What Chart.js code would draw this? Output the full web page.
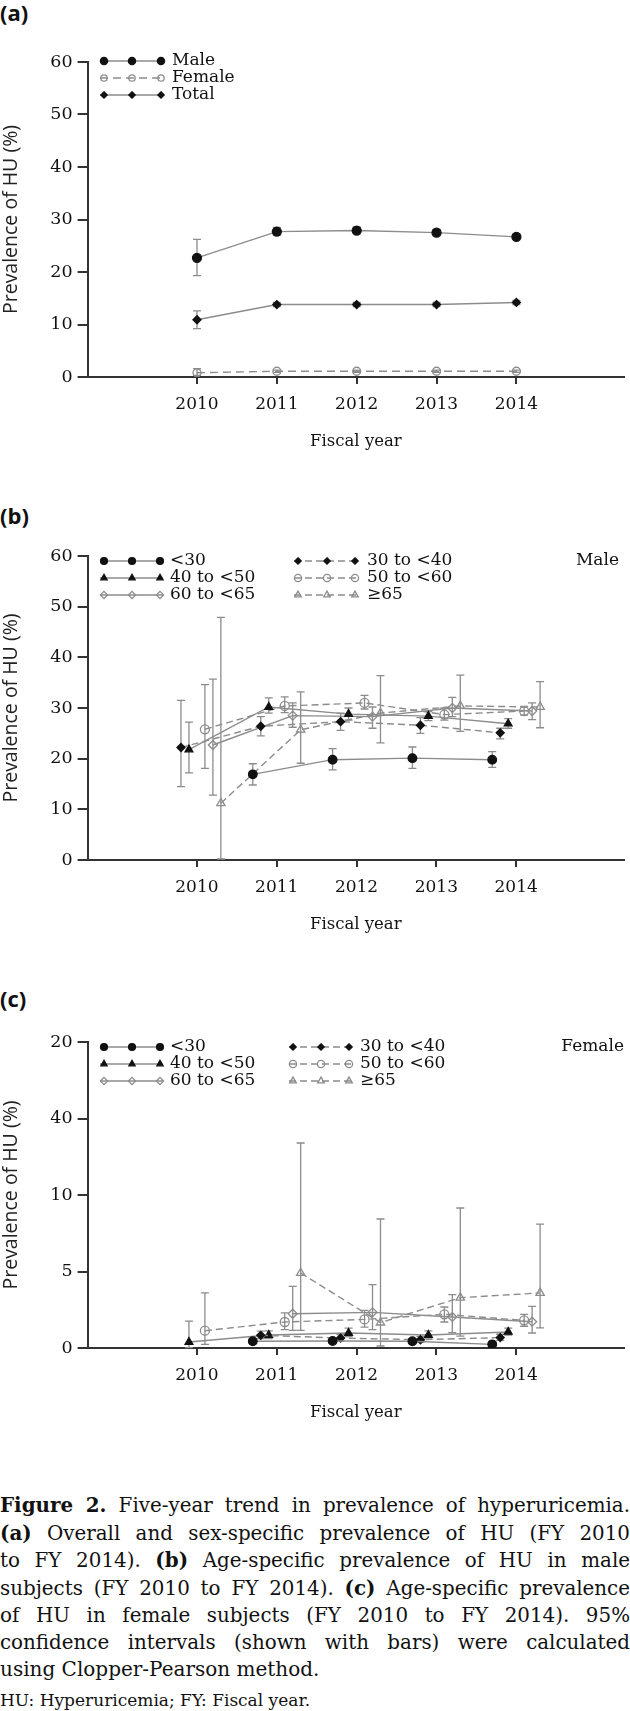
<!DOCTYPE html>
<html>
<head>
<meta charset="utf-8">
<script src="https://cdn.jsdelivr.net/npm/chart.js@4.4.1/dist/chart.umd.min.js"></script>
<style>
  body { margin: 0; width: 630px; height: 1711px; position: relative; background: #fff; overflow: hidden; }
  canvas { position: absolute; left: 0; }
  .lab { position: absolute; left: 0; font: bold 22px "Open Sans"; line-height: 24px; color: #111; }
  .cap { position: absolute; left: 0; top: 1492px; width: 630px; font: 20px "DejaVu Serif"; line-height: 26.7px; color: #111; }
  .ln { text-align: justify; text-align-last: justify; white-space: nowrap; }
  .fn { position: absolute; left: 0; top: 1689px; font: 17px "DejaVu Serif"; line-height: 22px; color: #111; }
</style>
</head>
<body>
<div class="lab" style="top:0px">(a)</div>
<div class="lab" style="top:503px">(b)</div>
<div class="lab" style="top:986px">(c)</div>
<canvas id="chartA"></canvas>
<canvas id="chartB"></canvas>
<canvas id="chartC"></canvas>
<div class="cap">
  <div class="ln"><span><b>Figure 2.</b> Five-year trend in prevalence of hyperuricemia.</span></div>
  <div class="ln"><span><b>(a)</b> Overall and sex-specific prevalence of HU (FY 2010</span></div>
  <div class="ln"><span>to FY 2014). <b>(b)</b> Age-specific prevalence of HU in male</span></div>
  <div class="ln"><span>subjects (FY 2010 to FY 2014). <b>(c)</b> Age-specific prevalence</span></div>
  <div class="ln"><span>of HU in female subjects (FY 2010 to FY 2014). 95%</span></div>
  <div class="ln"><span>confidence intervals (shown with bars) were calculated</span></div>
  <div><span>using Clopper-Pearson method.</span></div>
</div>
<div class="fn">HU: Hyperuricemia; FY: Fiscal year.</div>

<script>
// fiscal years and tick labels
const years = [2010, 2011, 2012, 2013, 2014];
const yearLabels = ['2010', '2011', '2012', '2013', '2014'];
const ticksAB = [0, 10, 20, 30, 40, 50, 60];
const labelsAB = ['0', '10', '20', '30', '40', '50', '60'];
const ticksC = [0, 5, 10, 15, 20];
const labelsC = ['0', '5', '10', '40', '20'];

// (a) overall and sex-specific prevalence (%), with 95% CI
const sexLabels = ['Male', 'Female', 'Total'];
const maleVal = [22.7, 27.7, 27.9, 27.5, 26.7];
const maleLo  = [19.3, 27.0, 27.3, 26.9, 26.2];
const maleHi  = [26.2, 28.5, 28.6, 28.1, 27.2];
const femaleVal = [0.8, 1.1, 1.1, 1.1, 1.1];
const femaleLo  = [0.3, 0.9, 0.9, 0.9, 0.9];
const femaleHi  = [1.6, 1.3, 1.3, 1.3, 1.3];
const totalVal = [10.9, 13.8, 13.8, 13.8, 14.2];
const totalLo  = [9.2, 13.4, 13.4, 13.4, 13.8];
const totalHi  = [12.6, 14.2, 14.2, 14.2, 14.6];

// age groups
const ageLabels = ['<30', '30 to <40', '40 to <50', '50 to <60', '60 to <65', '≥65'];
const ageShift = [-0.3, -0.2, -0.1, 0.1, 0.2, 0.3];

// (b) male, by age group
const mU30  = [null, 16.9, 19.8, 20.1, 19.8];
const mU30Lo = [null, 14.8, 17.8, 18.1, 18.3];
const mU30Hi = [null, 19.0, 22.0, 22.3, 21.4];
const m30  = [22.2, 26.4, 27.3, 26.6, 25.1];
const m30Lo = [14.5, 24.5, 25.6, 25.0, 23.9];
const m30Hi = [31.5, 28.3, 29.0, 28.1, 26.0];
const m40  = [21.8, 30.2, 28.8, 28.4, 26.9];
const m40Lo = [17.2, 29.0, 27.6, 27.5, 26.0];
const m40Hi = [27.2, 32.0, 30.0, 29.3, 27.9];
const m50  = [25.8, 30.4, 31.0, 28.7, 29.4];
const m50Lo = [18.1, 29.1, 29.8, 27.6, 28.6];
const m50Hi = [34.6, 32.2, 32.5, 30.0, 30.3];
const m60  = [22.7, 28.5, 28.3, 30.0, 29.4];
const m60Lo = [12.8, 26.2, 26.0, 28.3, 27.7];
const m60Hi = [35.7, 31.0, 30.2, 32.1, 31.0];
const m65  = [11.2, 25.7, 29.0, 30.4, 30.2];
const m65Lo = [0.2, 19.1, 23.1, 25.4, 26.1];
const m65Hi = [47.9, 33.2, 36.4, 36.5, 35.2];

// (c) female, by age group
const fU30  = [null, 0.44, 0.46, 0.44, 0.24];
const fU30Lo = [null, 0.30, 0.32, 0.30, 0.12];
const fU30Hi = [null, 0.60, 0.62, 0.60, 0.38];
const f30  = [null, 0.83, 0.65, 0.54, 0.68];
const f30Lo = [null, 0.62, 0.47, 0.37, 0.50];
const f30Hi = [null, 1.10, 0.88, 0.76, 0.90];
const f40  = [0.39, 0.85, 0.98, 0.85, 1.05];
const f40Lo = [0.02, 0.62, 0.75, 0.65, 0.85];
const f40Hi = [1.76, 1.12, 1.30, 1.12, 1.30];
const f50  = [1.13, 1.70, 1.87, 2.20, 1.81];
const f50Lo = [0.24, 1.20, 1.37, 1.70, 1.42];
const f50Hi = [3.60, 2.29, 2.46, 2.68, 2.20];
const f60  = [null, 2.24, 2.33, 2.03, 1.72];
const f60Lo = [null, 1.15, 1.20, 1.00, 0.98];
const f60Hi = [null, 4.03, 4.14, 3.49, 2.72];
const f65  = [null, 4.90, 1.66, 3.29, 3.60];
const f65Lo = [null, 1.15, 0.13, 0.78, 1.31];
const f65Hi = [null, 13.4, 8.43, 9.15, 8.10];

const GREY = '#8c8c8c';
const INK = '#111';
const AXIS = '#333';
const SERIF = 'DejaVu Serif';

const sexStyle = [
  { shape: 'circle', r: 4.5, fill: INK, stroke: INK, dash: [] },
  { shape: 'circle', r: 4, fill: null, stroke: GREY, dash: [8, 5] },
  { shape: 'rectRot', r: 4, fill: INK, stroke: INK, dash: [] }
];
const ageStyle = [
  { shape: 'circle', r: 4.3, fill: INK, stroke: INK, dash: [] },
  { shape: 'rectRot', r: 4, fill: INK, stroke: INK, dash: [7, 4] },
  { shape: 'triangle', r: 4.5, fill: INK, stroke: INK, dash: [] },
  { shape: 'circle', r: 4.5, fill: null, stroke: GREY, dash: [7, 4] },
  { shape: 'rectRot', r: 4.5, fill: null, stroke: GREY, dash: [] },
  { shape: 'triangle', r: 4.8, fill: null, stroke: GREY, dash: [7, 4] }
];

function series(label, shift, vals, lo, hi, st) {
  return {
    label: label,
    data: years.map((yr, i) => ({ x: yr + shift, y: vals[i] })),
    lo: lo, hi: hi, st: st,
    borderColor: GREY, borderWidth: 1.4, borderDash: st.dash,
    pointStyle: st.shape, pointRadius: st.r,
    pointBackgroundColor: st.fill || 'rgba(0,0,0,0)',
    pointBorderColor: st.stroke, pointBorderWidth: 1.3,
    tension: 0, fill: false
  };
}

function mark(ctx, shape, x, y, r, fill, stroke) {
  ctx.beginPath();
  if (shape === 'circle') {
    ctx.arc(x, y, r, 0, Math.PI * 2);
  } else if (shape === 'rectRot') {
    ctx.moveTo(x, y - r); ctx.lineTo(x + r, y); ctx.lineTo(x, y + r); ctx.lineTo(x - r, y); ctx.closePath();
  } else {
    ctx.moveTo(x, y - r); ctx.lineTo(x + r * 0.866, y + r * 0.5); ctx.lineTo(x - r * 0.866, y + r * 0.5); ctx.closePath();
  }
  ctx.setLineDash([]);
  if (fill) { ctx.fillStyle = fill; ctx.fill(); }
  ctx.strokeStyle = stroke; ctx.lineWidth = 1.3; ctx.stroke();
}

// 95% CI whiskers, placed with the chart's own scales
const errBars = {
  id: 'errBars',
  beforeDatasetsDraw(chart) {
    const ctx = chart.ctx, xs = chart.scales.x, ys = chart.scales.y;
    ctx.save();
    ctx.strokeStyle = GREY; ctx.lineWidth = 1.3; ctx.setLineDash([]);
    chart.data.datasets.forEach(ds => {
      ds.data.forEach((p, i) => {
        if (ds.lo[i] == null) return;
        const x = xs.getPixelForValue(p.x);
        const y1 = ys.getPixelForValue(ds.lo[i]);
        const y2 = ys.getPixelForValue(ds.hi[i]);
        ctx.beginPath();
        ctx.moveTo(x, y1); ctx.lineTo(x, y2);
        ctx.moveTo(x - 4, y1); ctx.lineTo(x + 4, y1);
        ctx.moveTo(x - 4, y2); ctx.lineTo(x + 4, y2);
        ctx.stroke();
      });
    });
    ctx.restore();
  }
};

// legend with three markers per line sample
const keyPlugin = {
  id: 'key',
  afterDraw(chart, args, opts) {
    const ctx = chart.ctx;
    ctx.save();
    ctx.font = '17px "' + SERIF + '"';
    ctx.textBaseline = 'middle';
    chart.data.datasets.forEach((ds, i) => {
      const row = opts.cols.length === 1 ? i : Math.floor(i / 2);
      const col = opts.cols[opts.cols.length === 1 ? 0 : i % 2];
      const y = opts.rows[row];
      ctx.strokeStyle = GREY; ctx.lineWidth = 1.4; ctx.setLineDash(ds.st.dash);
      ctx.beginPath(); ctx.moveTo(col.m[0] - 4, y); ctx.lineTo(col.m[2] + 3, y); ctx.stroke();
      col.m.forEach(mx => mark(ctx, ds.st.shape, mx, y, ds.st.r * 0.8, ds.st.fill, ds.st.stroke));
      ctx.fillStyle = INK; ctx.textAlign = 'left';
      ctx.fillText(ds.label, col.t, y);
    });
    if (opts.tag) {
      ctx.textAlign = 'right';
      ctx.fillText(opts.tag, opts.tagX, opts.rows[0]);
    }
    ctx.restore();
  }
};

function panel(id, top, height, padTop, datasets, yMax, yTicks, yLabels, key) {
  const cv = document.getElementById(id);
  cv.width = 630; cv.height = height; cv.style.top = top + 'px';
  return new Chart(cv, {
    type: 'line',
    data: { datasets: datasets },
    options: {
      responsive: false, animation: false, events: [],
      layout: { padding: { top: padTop, right: 2, left: 0, bottom: 0 } },
      plugins: { legend: { display: false }, tooltip: { enabled: false }, key: key },
      scales: {
        x: {
          type: 'linear', min: 2008.63, max: 2015.35,
          afterBuildTicks: s => { s.ticks = years.map(v => ({ value: v })); },
          afterFit: s => { s.height = 83; },
          ticks: {
            callback: (v, i) => yearLabels[i], autoSkip: false, maxRotation: 0,
            font: { family: SERIF, size: 17 }, color: INK, padding: 10
          },
          grid: { drawOnChartArea: false, tickLength: 7, color: AXIS, lineWidth: 2 },
          border: { color: AXIS, width: 2 },
          title: {
            display: true, text: 'Fiscal year', color: INK,
            font: { family: SERIF, size: 16.5 }, padding: { top: 0, bottom: 8 }
          }
        },
        y: {
          min: 0, max: yMax,
          afterBuildTicks: s => { s.ticks = yTicks.map(v => ({ value: v })); },
          afterFit: s => { s.width = 87.6; },
          ticks: {
            callback: (v, i) => yLabels[i],
            font: { family: SERIF, size: 17.5 }, color: INK, padding: 5
          },
          grid: { drawOnChartArea: false, tickLength: 10, color: AXIS, lineWidth: 2 },
          border: { color: AXIS, width: 2 },
          title: {
            display: true, text: 'Prevalence of HU (%)', color: '#222',
            font: { family: 'Open Sans', size: 19.5 }, padding: { top: 0, bottom: 0 }
          }
        }
      }
    },
    plugins: [errBars, keyPlugin]
  });
}

const colA = { m: [104, 132, 161], t: 172 };
const col1 = { m: [104, 132, 160], t: 170 };
const col2B = { m: [298, 327, 355], t: 367 };
const col2C = { m: [293, 321, 349], t: 360 };

panel('chartA', 0, 460, 62, [
  series(sexLabels[0], 0, maleVal, maleLo, maleHi, sexStyle[0]),
  series(sexLabels[1], 0, femaleVal, femaleLo, femaleHi, sexStyle[1]),
  series(sexLabels[2], 0, totalVal, totalLo, totalHi, sexStyle[2])
], 60, ticksAB, labelsAB, { rows: [61, 78, 95], cols: [colA] });

const maleSets = [[mU30, mU30Lo, mU30Hi], [m30, m30Lo, m30Hi], [m40, m40Lo, m40Hi],
                  [m50, m50Lo, m50Hi], [m60, m60Lo, m60Hi], [m65, m65Lo, m65Hi]];
panel('chartB', 500, 443, 56,
  maleSets.map((s, i) => series(ageLabels[i], ageShift[i], s[0], s[1], s[2], ageStyle[i])),
  60, ticksAB, labelsAB,
  { rows: [61, 78, 95], cols: [col1, col2B], tag: 'Male', tagX: 619 });

const femaleSets = [[fU30, fU30Lo, fU30Hi], [f30, f30Lo, f30Hi], [f40, f40Lo, f40Hi],
                    [f50, f50Lo, f50Hi], [f60, f60Lo, f60Hi], [f65, f65Lo, f65Hi]];
panel('chartC', 980, 451, 62,
  femaleSets.map((s, i) => series(ageLabels[i], ageShift[i], s[0], s[1], s[2], ageStyle[i])),
  20, ticksC, labelsC,
  { rows: [67, 84, 101], cols: [col1, col2C], tag: 'Female', tagX: 624 });

// shrink any caption line that would not fit, then justify it
document.querySelectorAll('.ln').forEach(el => {
  const w = el.firstElementChild.getBoundingClientRect().width;
  if (w > 628) el.style.fontSize = (20 * 626 / w) + 'px';
  el.style.whiteSpace = 'normal';
});
</script>
</body>
</html>
